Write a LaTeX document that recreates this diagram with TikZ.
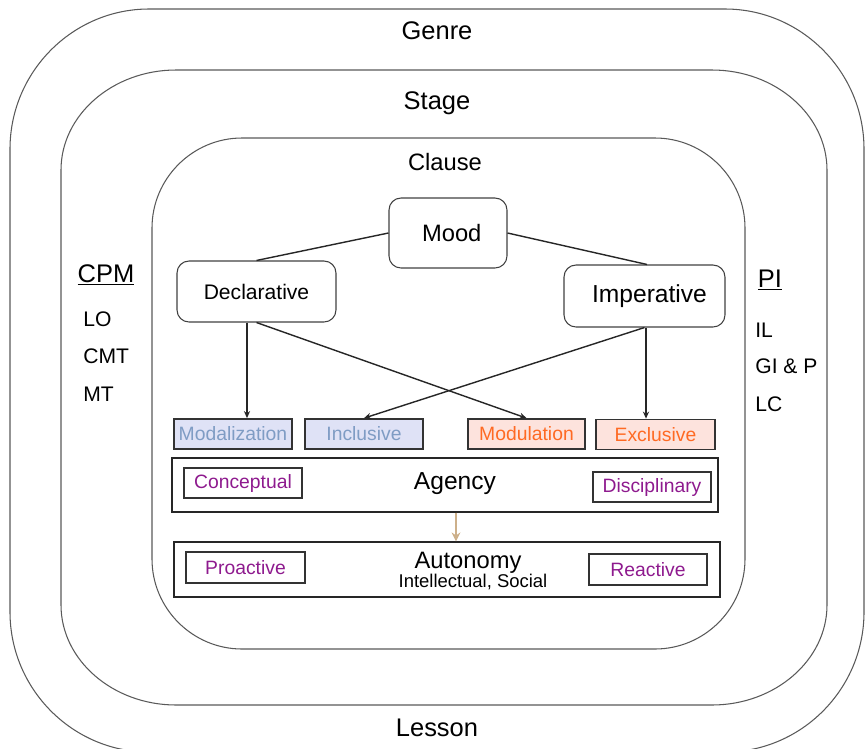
\documentclass[tikz,border=0pt]{standalone}
\usepackage{fontspec}
\setmainfont{Liberation Sans}
\usetikzlibrary{calc, positioning}
\usetikzlibrary{arrows.meta}

\definecolor{modfill}{HTML}{DFE2F6}
\definecolor{modtext}{HTML}{7F9CC4}
\definecolor{sfill}{HTML}{FDE3DD}
\definecolor{stext}{HTML}{FF6A23}
\definecolor{plum}{HTML}{8E1A8E}
\definecolor{tan}{HTML}{CDB08A}

\newcommand{\layerpath}[6]{%
  \draw[layer] ({#1+#5},#2) -- ({#3-#5},#2)
    .. controls ({#3-0.45*#5},#2) and (#3,{#2+0.45*#6}) .. (#3,{#2+#6})
    -- (#3,{#4-#6})
    .. controls (#3,{#4-0.45*#6}) and ({#3-0.45*#5},#4) .. ({#3-#5},#4)
    -- ({#1+#5},#4)
    .. controls ({#1+0.45*#5},#4) and (#1,{#4-0.45*#6}) .. (#1,{#4-#6})
    -- (#1,{#2+#6})
    .. controls (#1,{#2+0.45*#6}) and ({#1+0.45*#5},#2) .. ({#1+#5},#2) -- cycle;}

\begin{document}
\begin{tikzpicture}[x=0.02cm, y=-0.02cm,
  layer/.style={draw=black!65, line width=0.6pt},
  title/.style={font=\fontsize{14.5}{17}\selectfont},
  moodbox/.style={draw=black!75, line width=0.6pt, rounded corners=0.24cm, inner sep=0pt},
  kindbox/.style={draw=black!80, line width=1pt, minimum width=2.36cm, minimum height=0.6cm, inner sep=0pt, font=\fontsize{11}{13}\selectfont},
  band/.style={draw=black!85, line width=0.8pt, minimum width=10.92cm, inner sep=0pt},
  tag/.style={draw=black!80, line width=0.7pt, minimum width=2.36cm, minimum height=0.6cm, inner sep=0pt, text=plum, font=\fontsize{11}{13}\selectfont},
  link/.style={draw=black!85, line width=0.8pt, -{Stealth[length=4pt, width=3.5pt]}},
  side/.style={anchor=west, inner sep=0pt, font=\fontsize{12}{14}\selectfont}]
\useasboundingbox (0,0) rectangle (866,748);

\layerpath{10}{9}{864}{752}{139}{140}
\layerpath{61}{70}{827}{705}{115}{100}
\layerpath{152}{138}{745}{649}{90}{90}

\node[title] (genre) at (437,31) {Genre};
\node[title] (stage) at (437,103) {Stage};
\node[font=\fontsize{13.5}{16}\selectfont] (clause) at (445,162) {Clause};
\node[title] (lesson) at (437,728) {Lesson};

\node[title] (cpm) at (106,275) {\underline{CPM}};
\node[side] (lo) at (83,319) {LO};
\node[side] (cmt) at (83,356) {CMT};
\node[side] (mt) at (83,394) {MT};
\node[title] (pi) at (770,280) {\underline{PI}};
\node[side] (il) at (755,330) {IL};
\node[side] (gip) at (755,366) {GI \& P};
\node[side] (lc) at (755,404) {LC};

\node[moodbox, minimum width=2.36cm, minimum height=1.4cm, font=\fontsize{13.5}{16}\selectfont] (mood) at (448,233) {\hspace{0.15cm}Mood};
\node[moodbox, minimum width=3.18cm, minimum height=1.22cm, font=\fontsize{12}{14}\selectfont] (decl) at (256.5,291.5) {Declarative\hspace{0.25cm}};
\node[moodbox, minimum width=3.22cm, minimum height=1.24cm, font=\fontsize{14}{17}\selectfont] (imper) at (644.5,296) {\hspace{0.2cm}Imperative};

\node[kindbox, fill=modfill, text=modtext] (modal) at (233,434) {Modalization};
\node[kindbox, fill=modfill, text=modtext] (incl) at (364,434) {Inclusive\hspace{0.3cm}};
\node[kindbox, fill=sfill, text=stext, minimum width=2.34cm] (modul) at (526.5,434) {Modulation};
\node[kindbox, fill=sfill, text=stext, minimum width=2.38cm] (excl) at (655.5,434.5) {Exclusive};

\node[band, minimum height=1.08cm] (agency) at (445,485) {};
\node[font=\fontsize{14}{17}\selectfont] (agencytxt) at (455,484) {Agency};
\node[tag] (concept) at (243,483) {Conceptual};
\node[tag] (discip) at (652,487) {Disciplinary};

\node[band, minimum height=1.1cm] (autonomy) at (447,569.5) {};
\node[font=\fontsize{13.5}{16}\selectfont] (autotxt) at (468,563) {Autonomy};
\node[font=\fontsize{10.5}{12}\selectfont] (autosub) at (473,582) {Intellectual, Social};
\node[tag, minimum width=2.38cm, minimum height=0.62cm] (proact) at (245.5,567.5) {Proactive};
\node[tag, minimum height=0.62cm] (react) at (648,569.5) {Reactive};

\draw[draw=black!85, line width=0.8pt] (mood.west) -- (decl.north);
\draw[draw=black!85, line width=0.8pt] (mood.east) -- (647,0 |- imper.north);
\draw[link] (247,0 |- decl.south) -- (247,0 |- modal.north);
\draw[link] (decl.south) -- (modul.north);
\draw[link] (646,0 |- imper.south) -- (646,0 |- excl.north);
\draw[link] (imper.south) -- (incl.north);
\draw[draw=tan, line width=1.5pt, -{Stealth[length=5pt, width=5pt]}] (456,0 |- agency.south) -- (456,0 |- autonomy.north);
\end{tikzpicture}
\end{document}
